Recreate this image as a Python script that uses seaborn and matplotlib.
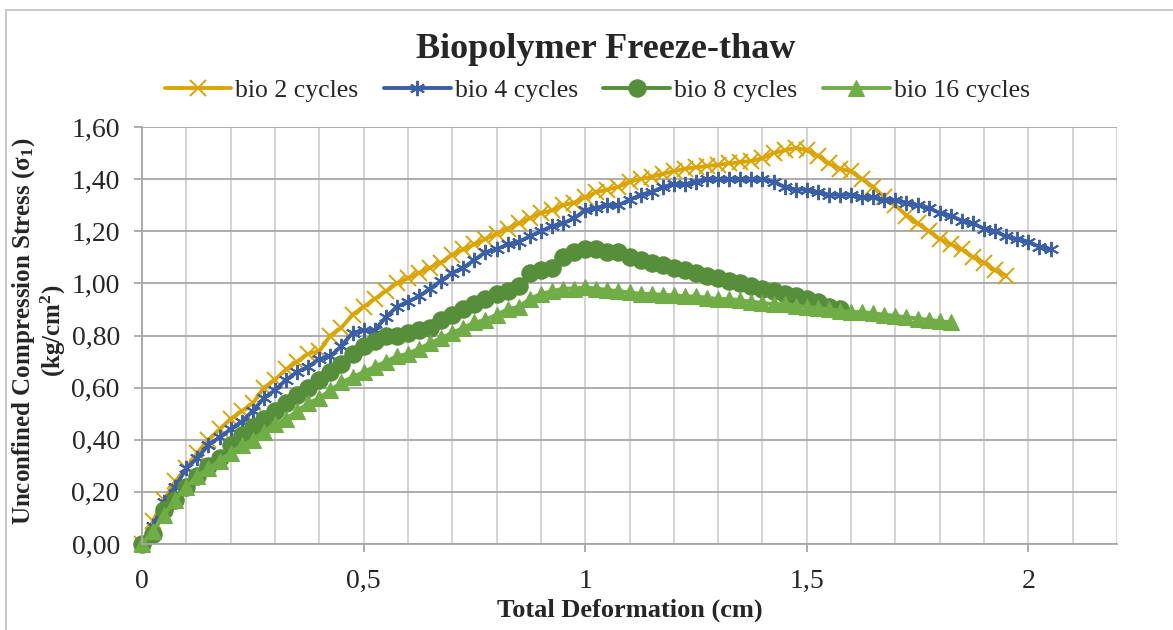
import matplotlib
matplotlib.use("Agg")
import matplotlib.pyplot as plt
import seaborn as sns
from matplotlib.ticker import MultipleLocator, FuncFormatter
from matplotlib.lines import Line2D

# ---------------- data ----------------
deformation = [0.000, 0.025, 0.050, 0.075, 0.100, 0.125, 0.150, 0.175, 0.200, 0.225,
               0.250, 0.275, 0.300, 0.325, 0.350, 0.375, 0.400, 0.425, 0.450, 0.475,
               0.500, 0.525, 0.550, 0.575, 0.600, 0.625, 0.650, 0.675, 0.700, 0.725,
               0.750, 0.775, 0.800, 0.825, 0.850, 0.875, 0.900, 0.925, 0.950, 0.975,
               1.000, 1.025, 1.050, 1.075, 1.100, 1.125, 1.150, 1.175, 1.200, 1.225,
               1.250, 1.275, 1.300, 1.325, 1.350, 1.375, 1.400, 1.425, 1.450, 1.475,
               1.500, 1.525, 1.550, 1.575, 1.600, 1.625, 1.650, 1.675, 1.700, 1.725,
               1.750, 1.775, 1.800, 1.825, 1.850, 1.875, 1.900, 1.925, 1.950, 1.975,
               2.000, 2.025, 2.050]

bio2 = [0.00, 0.09, 0.17, 0.24, 0.29, 0.35, 0.40, 0.44, 0.48, 0.51,
        0.54, 0.60, 0.63, 0.67, 0.70, 0.73, 0.74, 0.80, 0.83, 0.88,
        0.91, 0.94, 0.97, 1.00, 1.02, 1.04, 1.06, 1.08, 1.11, 1.13,
        1.15, 1.17, 1.19, 1.21, 1.23, 1.25, 1.27, 1.28, 1.30, 1.31,
        1.33, 1.35, 1.36, 1.37, 1.39, 1.40, 1.41, 1.42, 1.43, 1.44,
        1.445, 1.45, 1.455, 1.46, 1.465, 1.47, 1.48, 1.50, 1.51, 1.52,
        1.51, 1.49, 1.46, 1.44, 1.43, 1.40, 1.37, 1.33, 1.30, 1.26,
        1.23, 1.20, 1.17, 1.15, 1.13, 1.10, 1.08, 1.05, 1.03]

bio4 = [0.00, 0.07, 0.16, 0.22, 0.29, 0.33, 0.38, 0.41, 0.44, 0.47,
        0.51, 0.56, 0.59, 0.63, 0.66, 0.68, 0.71, 0.72, 0.76, 0.81,
        0.82, 0.82, 0.87, 0.91, 0.93, 0.95, 0.98, 1.01, 1.04, 1.06,
        1.09, 1.12, 1.13, 1.15, 1.16, 1.18, 1.20, 1.22, 1.23, 1.25,
        1.28, 1.29, 1.30, 1.30, 1.32, 1.34, 1.35, 1.37, 1.38, 1.38,
        1.39, 1.40, 1.40, 1.40, 1.40, 1.40, 1.40, 1.39, 1.37, 1.36,
        1.36, 1.35, 1.34, 1.34, 1.34, 1.33, 1.33, 1.32, 1.32, 1.31,
        1.30, 1.29, 1.27, 1.26, 1.24, 1.23, 1.21, 1.20, 1.18, 1.17,
        1.16, 1.14, 1.13]

bio8 = [0.00, 0.04, 0.13, 0.17, 0.22, 0.26, 0.30, 0.33, 0.38, 0.42,
        0.45, 0.48, 0.51, 0.54, 0.57, 0.60, 0.63, 0.66, 0.69, 0.73,
        0.76, 0.78, 0.80, 0.80, 0.81, 0.82, 0.83, 0.86, 0.88, 0.90,
        0.92, 0.94, 0.96, 0.97, 0.99, 1.04, 1.05, 1.06, 1.10, 1.12,
        1.13, 1.13, 1.12, 1.12, 1.10, 1.09, 1.08, 1.07, 1.06, 1.05,
        1.04, 1.03, 1.02, 1.01, 1.00, 0.99, 0.98, 0.97, 0.96, 0.95,
        0.94, 0.93, 0.91, 0.90]

bio16 = [0.00, 0.05, 0.11, 0.17, 0.22, 0.26, 0.29, 0.32, 0.35, 0.38,
         0.40, 0.43, 0.46, 0.48, 0.51, 0.54, 0.56, 0.59, 0.62, 0.64,
         0.66, 0.68, 0.70, 0.72, 0.73, 0.75, 0.77, 0.79, 0.81, 0.83,
         0.85, 0.86, 0.88, 0.90, 0.91, 0.94, 0.96, 0.97, 0.98, 0.98,
         0.985, 0.98, 0.975, 0.97, 0.965, 0.96, 0.96, 0.955, 0.955, 0.95,
         0.95, 0.945, 0.94, 0.94, 0.935, 0.93, 0.925, 0.92, 0.92, 0.915,
         0.91, 0.905, 0.90, 0.895, 0.89, 0.89, 0.885, 0.88, 0.875, 0.87,
         0.865, 0.86, 0.855, 0.85]

series_names = ["bio 2 cycles", "bio 4 cycles", "bio 8 cycles", "bio 16 cycles"]
series_values = [bio2, bio4, bio8, bio16]
series_colors = ["#DBA400", "#3A5FA8", "#578E39", "#70AD47"]
series_markers = ["x", (6, 2, 0), "o", "^"]
series_msize = [11, 11, 12.5, 11]

title = "Biopolymer Freeze-thaw"
x_label = "Total Deformation (cm)"
y_label = "Unconfined Compression Stress (σ$_\\mathbf{1}$)\n(kg/cm$^\\mathbf{2}$)"

# ---------------- style ----------------
sns.set_style("white")
plt.rcParams["font.family"] = ["Liberation Serif", "DejaVu Serif"]
plt.rcParams["mathtext.fontset"] = "custom"
plt.rcParams["mathtext.rm"] = "Liberation Serif"
plt.rcParams["mathtext.it"] = "Liberation Serif:italic"
plt.rcParams["mathtext.bf"] = "Liberation Serif:bold"

fig = plt.figure(figsize=(11.73, 6.30), dpi=100)
ax = fig.add_axes([142 / 1173, 1 - 544 / 630, 975 / 1173, 417 / 630])

for name, vals, col, mk, ms in zip(series_names, series_values, series_colors,
                                   series_markers, series_msize):
    xs = deformation[:len(vals)]
    mew = 1.4 if (mk == "x" or isinstance(mk, tuple)) else 0.8
    sns.lineplot(x=xs, y=vals, ax=ax, color=col, marker=mk, markersize=ms,
                 markeredgewidth=mew, markeredgecolor=col, markerfacecolor=col,
                 linewidth=2.8, label=name, sort=False, errorbar=None, clip_on=False)

ax.set_xlim(0, 2.2)
ax.set_ylim(0, 1.6)
ax.xaxis.set_major_locator(MultipleLocator(0.5))
ax.xaxis.set_minor_locator(MultipleLocator(0.1))
ax.yaxis.set_major_locator(MultipleLocator(0.2))

def fmt_x(v, pos):
    s = f"{v:g}"
    return s.replace(".", ",")

def fmt_y(v, pos):
    return f"{v:.2f}".replace(".", ",")

ax.xaxis.set_major_formatter(FuncFormatter(fmt_x))
ax.yaxis.set_major_formatter(FuncFormatter(fmt_y))

ax.grid(True, axis="y", which="major", color="#A6A6A6", linewidth=1.3)
ax.grid(True, axis="x", which="both", color="#D0D0D0", linewidth=1.3)
ax.set_axisbelow(True)

for s in ["top", "right"]:
    ax.spines[s].set_visible(False)
for s in ["left", "bottom"]:
    ax.spines[s].set_color("#A6A6A6")
    ax.spines[s].set_linewidth(1.3)

ax.tick_params(axis="x", which="major", direction="out", length=6, width=1.3,
               color="#A6A6A6", labelsize=20, pad=12, bottom=True)
ax.tick_params(axis="x", which="minor", length=0)
ax.tick_params(axis="y", which="major", direction="out", length=6, width=1.3,
               color="#A6A6A6", labelsize=20, pad=10, left=True)

ax.set_xlabel(x_label, fontsize=19, fontweight="bold", labelpad=3)
ax.set_ylabel(y_label, fontsize=18, fontweight="bold", va="center", ha="center",
              multialignment="center", linespacing=1.05)
ax.yaxis.set_label_coords(-0.1056, 0.511)

fig.text(0.516, 0.921, title, fontsize=26, fontweight="bold", ha="center", va="center")

handles, labels = ax.get_legend_handles_labels()
leg = fig.legend(handles, labels, loc="center", bbox_to_anchor=(0.509, 0.856), ncol=4,
                 frameon=False, fontsize=18.5, handlelength=2.6, handletextpad=0.15,
                 columnspacing=1.0, borderaxespad=0)
if ax.get_legend() is not None:
    ax.get_legend().remove()

# outer chart border (left and top visible)
fig.add_artist(Line2D([6 / 1173, 6 / 1173], [0, 1 - 10 / 630], transform=fig.transFigure,
                      color="#BFBFBF", linewidth=1.2))
fig.add_artist(Line2D([6 / 1173, 1], [1 - 10 / 630, 1 - 10 / 630], transform=fig.transFigure,
                      color="#BFBFBF", linewidth=1.2))

fig.savefig("out.png", dpi=100)
